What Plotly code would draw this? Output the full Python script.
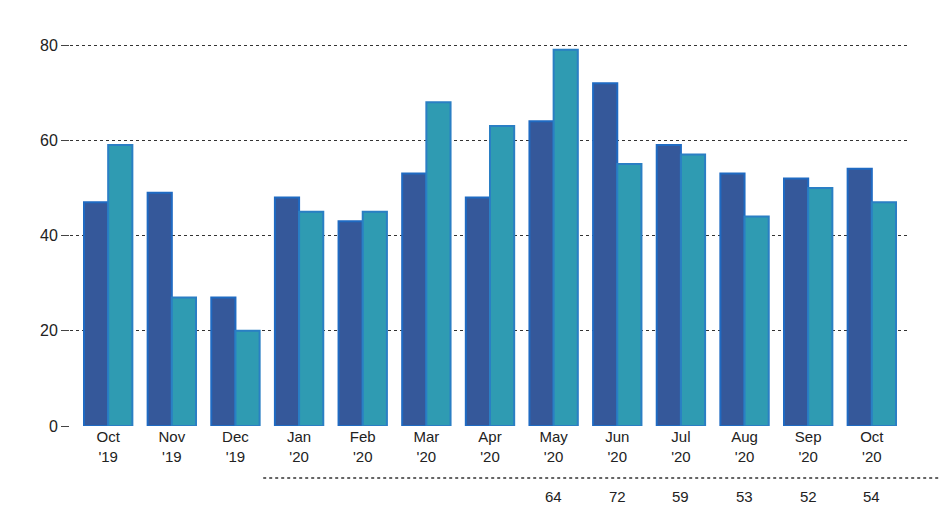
import plotly.graph_objects as go

months = ["Oct<br>'19", "Nov<br>'19", "Dec<br>'19", "Jan<br>'20", "Feb<br>'20", "Mar<br>'20",
          "Apr<br>'20", "May<br>'20", "Jun<br>'20", "Jul<br>'20", "Aug<br>'20", "Sep<br>'20", "Oct<br>'20"]
series_dark = [47, 49, 27, 48, 43, 53, 48, 64, 72, 59, 53, 52, 54]
series_teal = [59, 27, 20, 45, 45, 68, 63, 79, 55, 57, 44, 50, 47]
y_ticks = [0, 20, 40, 60, 80]
visible_table_from = 7  # only the May '20 .. Oct '20 part of the value row is in view

x = list(range(len(months)))

fig = go.Figure()
fig.add_trace(go.Bar(x=x, y=series_dark, marker=dict(color="#35589a", line=dict(color="#1f6ac2", width=2)),
                     showlegend=False))
fig.add_trace(go.Bar(x=x, y=series_teal, marker=dict(color="#2f9bb2", line=dict(color="#2a7fc4", width=2)),
                     showlegend=False))

for i in range(visible_table_from, len(months)):
    fig.add_annotation(x=x[i], y=-0.175, xref="x", yref="paper", text=str(series_dark[i]),
                       showarrow=False, font=dict(size=15, color="#222"), yanchor="middle")

fig.add_shape(type="line", xref="paper", yref="paper", x0=0.23, x1=1.06, y0=-0.13, y1=-0.13,
              line=dict(color="#333", width=1.5, dash="dot"))

fig.update_layout(
    width=947, height=510,
    margin=dict(l=62, r=45, t=18, b=92),
    paper_bgcolor="white", plot_bgcolor="white",
    barmode="group", bargap=0.24, bargroupgap=0.0,
    font=dict(family="Liberation Sans Narrow, Liberation Sans, Arial, sans-serif", color="#222"),
)
fig.update_xaxes(tickmode="array", tickvals=x, ticktext=months, showgrid=False, zeroline=False,
                 showline=False, tickfont=dict(size=15), range=[-0.6, len(months) - 0.4])
fig.update_yaxes(range=[0, 84], tickvals=y_ticks, showgrid=True, griddash="dot", gridcolor="#333",
                 gridwidth=1, zeroline=False, showline=False, ticks="outside", ticklen=8,
                 tickcolor="#444", tickfont=dict(size=16))

fig.write_html("out.html")
